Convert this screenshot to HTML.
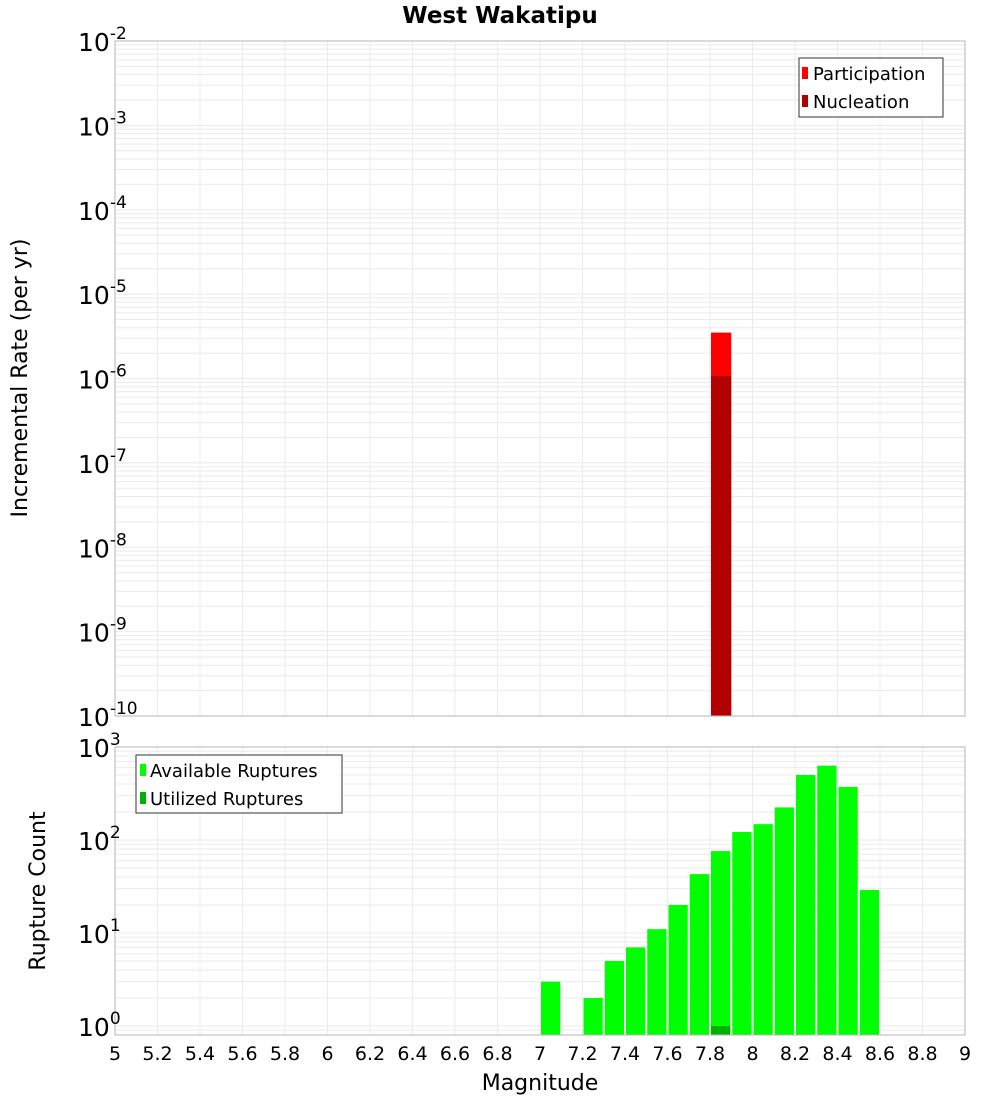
<!DOCTYPE html>
<html><head><meta charset="utf-8"><style>
body{margin:0;background:#fff;}
svg{display:block;font-family:"DejaVu Sans","Liberation Sans",sans-serif;}
</style></head><body>
<svg id="c" width="1000" height="1100"></svg>
<script>
const mags = [7.8];
const participation = [3.5e-6];
const nucleation = [1.07e-6];
const countMags = [7.0,7.2,7.3,7.4,7.5,7.6,7.7,7.8,7.9,8.0,8.1,8.2,8.3,8.4,8.5];
const available = [3,2,5,7,11,20,43,76,122,148,224,500,630,372,29];
const utilMags = [7.8];
const utilized = [1.0];
const xTicks = [5,5.2,5.4,5.6,5.8,6,6.2,6.4,6.6,6.8,7,7.2,7.4,7.6,7.8,8,8.2,8.4,8.6,8.8,9];
const topExps = [-2,-3,-4,-5,-6,-7,-8,-9,-10];
const botExps = [0,1,2,3];

const NS="http://www.w3.org/2000/svg";
const svg=document.getElementById('c');
function el(tag,attrs,parent,name,inter){const e=document.createElementNS(NS,tag);for(const k in attrs)e.setAttribute(k,attrs[k]);


(parent||svg).appendChild(e);return e;}
const L=115,R=965;
const x=m=>L+(m-5)/4*(R-L);
const T1=41,B1=716; const y1=v=>T1+(-2-Math.log10(v))/8*(B1-T1);
const T2=747,B2=1035; const dec2=93; const y2=v=>T2+(3-Math.log10(v))*dec2;

function grid(top,bot,yf,minE,maxE,name){
  const g=el('g',{},svg,name+'-grid');
  xTicks.forEach(t=>el('line',{x1:x(t),x2:x(t),y1:top,y2:bot,stroke:'#ebebeb'},g,'v-gridline'));
  for(let e=minE;e<=maxE;e++)for(let k=1;k<10;k++){const yy=yf(k*Math.pow(10,e));if(yy>=top&&yy<=bot)el('line',{x1:L,x2:R,y1:yy,y2:yy,stroke:'#ebebeb'},g,'h-gridline');}
}
grid(T1,B1,y1,-10,-3,'top');
grid(T2,B2,y2,-1,2,'bottom');

// top bars
mags.forEach((m,i)=>{
  el('rect',{x:x(m)+1,y:y1(participation[i]),width:x(m+0.1)-x(m)-1,height:B1-y1(participation[i]),fill:'#ff0000'},svg,'participation-bar');
  el('rect',{x:x(m)+1,y:y1(nucleation[i]),width:x(m+0.1)-x(m)-1,height:B1-y1(nucleation[i]),fill:'#b00000'},svg,'nucleation-bar');
});
countMags.forEach((m,i)=>{
  el('rect',{x:x(m)+1,y:y2(available[i]),width:x(m+0.1)-x(m)-2,height:B2-y2(available[i]),fill:'#00ff00'},svg,'available-bar');
});
utilMags.forEach((m,i)=>{
  el('rect',{x:x(m)+1,y:y2(utilized[i]),width:x(m+0.1)-x(m)-2,height:B2-y2(utilized[i]),fill:'#00b000'},svg,'utilized-bar');
});

el('rect',{x:L,y:T1,width:R-L,height:B1-T1,fill:'none',stroke:'#b4b4b4'},svg,'top-plot-border');
el('rect',{x:L,y:T2,width:R-L,height:B2-T2,fill:'none',stroke:'#b4b4b4'},svg,'bottom-plot-border');

function txt(s,a,name){const t=el('text',a,svg,name);t.textContent=s;return t;}
txt('West Wakatipu',{x:500,y:23,'text-anchor':'middle','font-size':23,'font-weight':'bold'},'chart-title');

function ylab(e,yy,name){
  const t=el('text',{x:104,y:yy+10,'text-anchor':'end','font-size':25},svg,name);
  const a=document.createElementNS(NS,'tspan');a.textContent='10';t.appendChild(a);
  const b=document.createElementNS(NS,'tspan');b.setAttribute('dy',-12);b.setAttribute('font-size',17);b.textContent=String(e);t.appendChild(b);
  t.setAttribute('x',78);t.setAttribute('text-anchor','start');
}
topExps.forEach(e=>ylab(e,y1(Math.pow(10,e)),'top-y-tick'));
botExps.forEach(e=>ylab(e,y2(Math.pow(10,e)),'bottom-y-tick'));
xTicks.forEach(t=>txt(String(t),{x:x(t),y:1060,'text-anchor':'middle','font-size':19},'x-tick'));
txt('Magnitude',{x:540,y:1090,'text-anchor':'middle','font-size':22},'x-axis-title');
txt('Incremental Rate (per yr)',{x:27,y:378,'text-anchor':'middle','font-size':22,transform:'rotate(-90 27 378)'},'top-y-axis-title');
txt('Rupture Count',{x:45,y:891,'text-anchor':'middle','font-size':22,transform:'rotate(-90 45 891)'},'bottom-y-axis-title');

// legends
el('rect',{x:799,y:58,width:144,height:59,fill:'#fff',stroke:'#333'},svg,'top-legend');
el('rect',{x:802,y:67,width:6,height:12,fill:'#ff0000'},svg,'legend-participation-swatch');
txt('Participation',{x:813,y:80,'font-size':18},'legend-participation');
el('rect',{x:802,y:95,width:6,height:12,fill:'#b00000'},svg,'legend-nucleation-swatch');
txt('Nucleation',{x:813,y:108,'font-size':18},'legend-nucleation');
el('rect',{x:136,y:755,width:206,height:58,fill:'#fff',stroke:'#333'},svg,'bottom-legend');
el('rect',{x:140,y:764,width:6,height:12,fill:'#00ff00'},svg,'legend-available-swatch');
txt('Available Ruptures',{x:150,y:777,'font-size':18},'legend-available');
el('rect',{x:140,y:792,width:6,height:12,fill:'#00b000'},svg,'legend-utilized-swatch');
txt('Utilized Ruptures',{x:150,y:805,'font-size':18},'legend-utilized');
</script>
</body></html>
